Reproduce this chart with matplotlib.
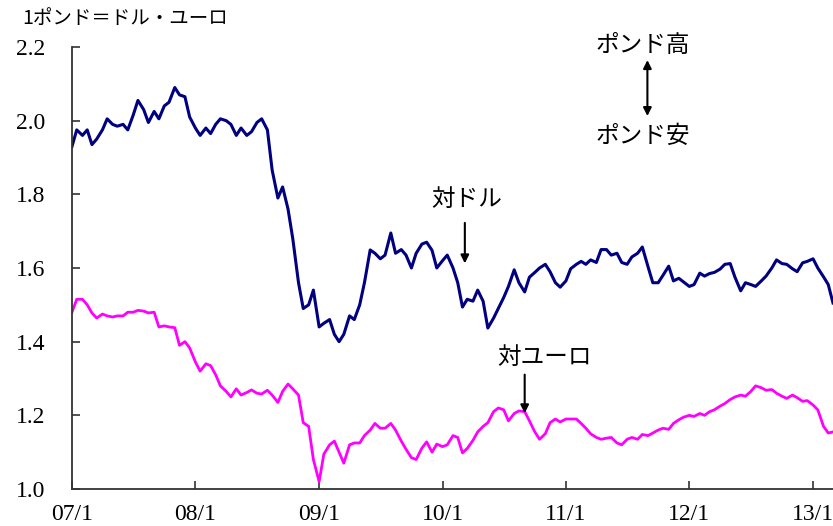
import numpy as np
import pandas as pd
import matplotlib
matplotlib.use("Agg")
import matplotlib.pyplot as plt
import matplotlib.dates as mdates

plt.rcParams['font.family'] = ['Noto Sans CJK JP', 'DejaVu Sans']

# semi-monthly readings, 2007/1/1 .. 2013/3/1
dates = pd.date_range("2007-01-01", periods=149, freq="SMS")

gbp_usd = [
    1.93, 1.975, 1.96, 1.975, 1.935, 1.95, 1.975, 2.005, 1.99, 1.985,
    1.99, 1.975, 2.015, 2.055, 2.03, 1.995, 2.025, 2.005, 2.04, 2.05,
    2.09, 2.07, 2.065, 2.01, 1.98, 1.96, 1.98, 1.965, 1.99, 2.005,
    2.0, 1.99, 1.96, 1.98, 1.96, 1.97, 1.995, 2.005, 1.975, 1.866,
    1.79, 1.82, 1.76, 1.68, 1.56, 1.49, 1.50, 1.54, 1.44, 1.45,
    1.46, 1.42, 1.40, 1.42, 1.47, 1.46, 1.50, 1.56, 1.649, 1.64,
    1.625, 1.635, 1.695, 1.64, 1.65, 1.635, 1.60, 1.64, 1.665, 1.67,
    1.648, 1.60, 1.62, 1.635, 1.60, 1.56, 1.494, 1.515, 1.51, 1.54,
    1.51, 1.437, 1.464, 1.49, 1.52, 1.55, 1.595, 1.56, 1.535, 1.575,
    1.588, 1.60, 1.61, 1.59, 1.56, 1.548, 1.565, 1.598, 1.61, 1.618,
    1.61, 1.622, 1.615, 1.65, 1.65, 1.635, 1.64, 1.615, 1.61, 1.63,
    1.64, 1.657, 1.603, 1.56, 1.56, 1.58, 1.605, 1.565, 1.572, 1.562,
    1.55, 1.555, 1.586, 1.578, 1.585, 1.588, 1.597, 1.61, 1.612, 1.575,
    1.538, 1.56, 1.555, 1.55, 1.565, 1.578, 1.60, 1.622, 1.612, 1.61,
    1.598, 1.59, 1.614, 1.618, 1.625, 1.60, 1.576, 1.555, 1.505,
]

gbp_eur = [
    1.48, 1.515, 1.515, 1.50, 1.478, 1.464, 1.475, 1.47, 1.467, 1.47,
    1.47, 1.48, 1.48, 1.485, 1.483, 1.478, 1.48, 1.44, 1.443, 1.44,
    1.438, 1.39, 1.40, 1.383, 1.345, 1.32, 1.34, 1.335, 1.31, 1.28,
    1.265, 1.25, 1.272, 1.255, 1.262, 1.269, 1.26, 1.258, 1.268, 1.255,
    1.235, 1.265, 1.285, 1.272, 1.255, 1.18, 1.17, 1.08, 1.02, 1.095,
    1.12, 1.13, 1.10, 1.07, 1.12, 1.125, 1.125, 1.145, 1.16, 1.178,
    1.165, 1.165, 1.178, 1.16, 1.13, 1.108, 1.085, 1.08, 1.111, 1.128,
    1.10, 1.122, 1.115, 1.12, 1.145, 1.14, 1.098, 1.11, 1.132, 1.155,
    1.17, 1.18, 1.21, 1.22, 1.215, 1.185, 1.205, 1.212, 1.21, 1.185,
    1.155, 1.135, 1.15, 1.18, 1.19, 1.182, 1.19, 1.19, 1.19, 1.178,
    1.165, 1.15, 1.14, 1.135, 1.138, 1.14, 1.125, 1.12, 1.135, 1.14,
    1.135, 1.148, 1.145, 1.152, 1.16, 1.165, 1.162, 1.178, 1.188, 1.195,
    1.20, 1.197, 1.205, 1.20, 1.21, 1.215, 1.225, 1.232, 1.243, 1.25,
    1.255, 1.252, 1.265, 1.28, 1.275, 1.268, 1.27, 1.26, 1.252, 1.246,
    1.255, 1.248, 1.238, 1.24, 1.228, 1.215, 1.17, 1.152, 1.155,
]

yticks = [1.0, 1.2, 1.4, 1.6, 1.8, 2.0, 2.2]
xtick_years = [2007, 2008, 2009, 2010, 2011, 2012, 2013]

fig = plt.figure(figsize=(8.33, 5.26), dpi=100)
ax = fig.add_axes([72 / 833, 1 - 489 / 526, 1 - 72 / 833, (489 - 47) / 526])

ax.plot(dates, gbp_usd, color="#000080", lw=2.2, solid_joinstyle="round")
ax.plot(dates, gbp_eur, color="#FF00FF", lw=2.0, solid_joinstyle="round")

ax.set_ylim(1.0, 2.2)
ax.set_xlim(pd.Timestamp("2007-01-01"), pd.Timestamp("2013-03-01"))

ax.set_yticks(yticks)
ax.set_yticklabels(["%.1f" % v for v in yticks], family="Liberation Serif", fontsize=17)
ax.set_xticks([pd.Timestamp("%d-01-01" % y) for y in xtick_years])
ax.set_xticklabels(["%02d/1" % (y % 100) for y in xtick_years], family="Liberation Serif", fontsize=17)

ax.tick_params(axis="y", direction="in", length=6, width=1.2, pad=19, color="#333333")
ax.tick_params(axis="x", direction="in", length=6, width=1.2, pad=11, color="#333333")
for s in ["top", "right"]:
    ax.spines[s].set_visible(False)
for s in ["left", "bottom"]:
    ax.spines[s].set_color("#333333")
    ax.spines[s].set_linewidth(1.3)

fig.text(22 / 833, 1 - 18 / 526, "1ポンド＝ドル・ユーロ", fontsize=14, ha="left", va="center")

# annotations
d = mdates.date2num
ax.text(d(pd.Timestamp("2010-03-13")), 1.785, "対ドル", fontsize=17, ha="center", va="center")
ax.annotate("", xy=(d(pd.Timestamp("2010-03-08")), 1.605), xytext=(d(pd.Timestamp("2010-03-08")), 1.73),
            arrowprops=dict(arrowstyle="-|>", color="black", lw=1.5, mutation_scale=12))
ax.text(d(pd.Timestamp("2010-10-30")), 1.358, "対ユーロ", fontsize=17, ha="center", va="center")
ax.annotate("", xy=(d(pd.Timestamp("2010-09-01")), 1.198), xytext=(d(pd.Timestamp("2010-09-01")), 1.318),
            arrowprops=dict(arrowstyle="-|>", color="black", lw=1.5, mutation_scale=12))

ax.text(d(pd.Timestamp("2011-08-15")), 2.205, "ポンド高", fontsize=17, ha="center", va="center",
        clip_on=False)
ax.text(d(pd.Timestamp("2011-08-15")), 1.956, "ポンド安", fontsize=17, ha="center", va="center")
ax.annotate("", xy=(d(pd.Timestamp("2011-08-30")), 2.172), xytext=(d(pd.Timestamp("2011-08-30")), 2.005),
            arrowprops=dict(arrowstyle="<|-|>", color="black", lw=1.5, mutation_scale=12))

fig.savefig("out.png", dpi=100)
